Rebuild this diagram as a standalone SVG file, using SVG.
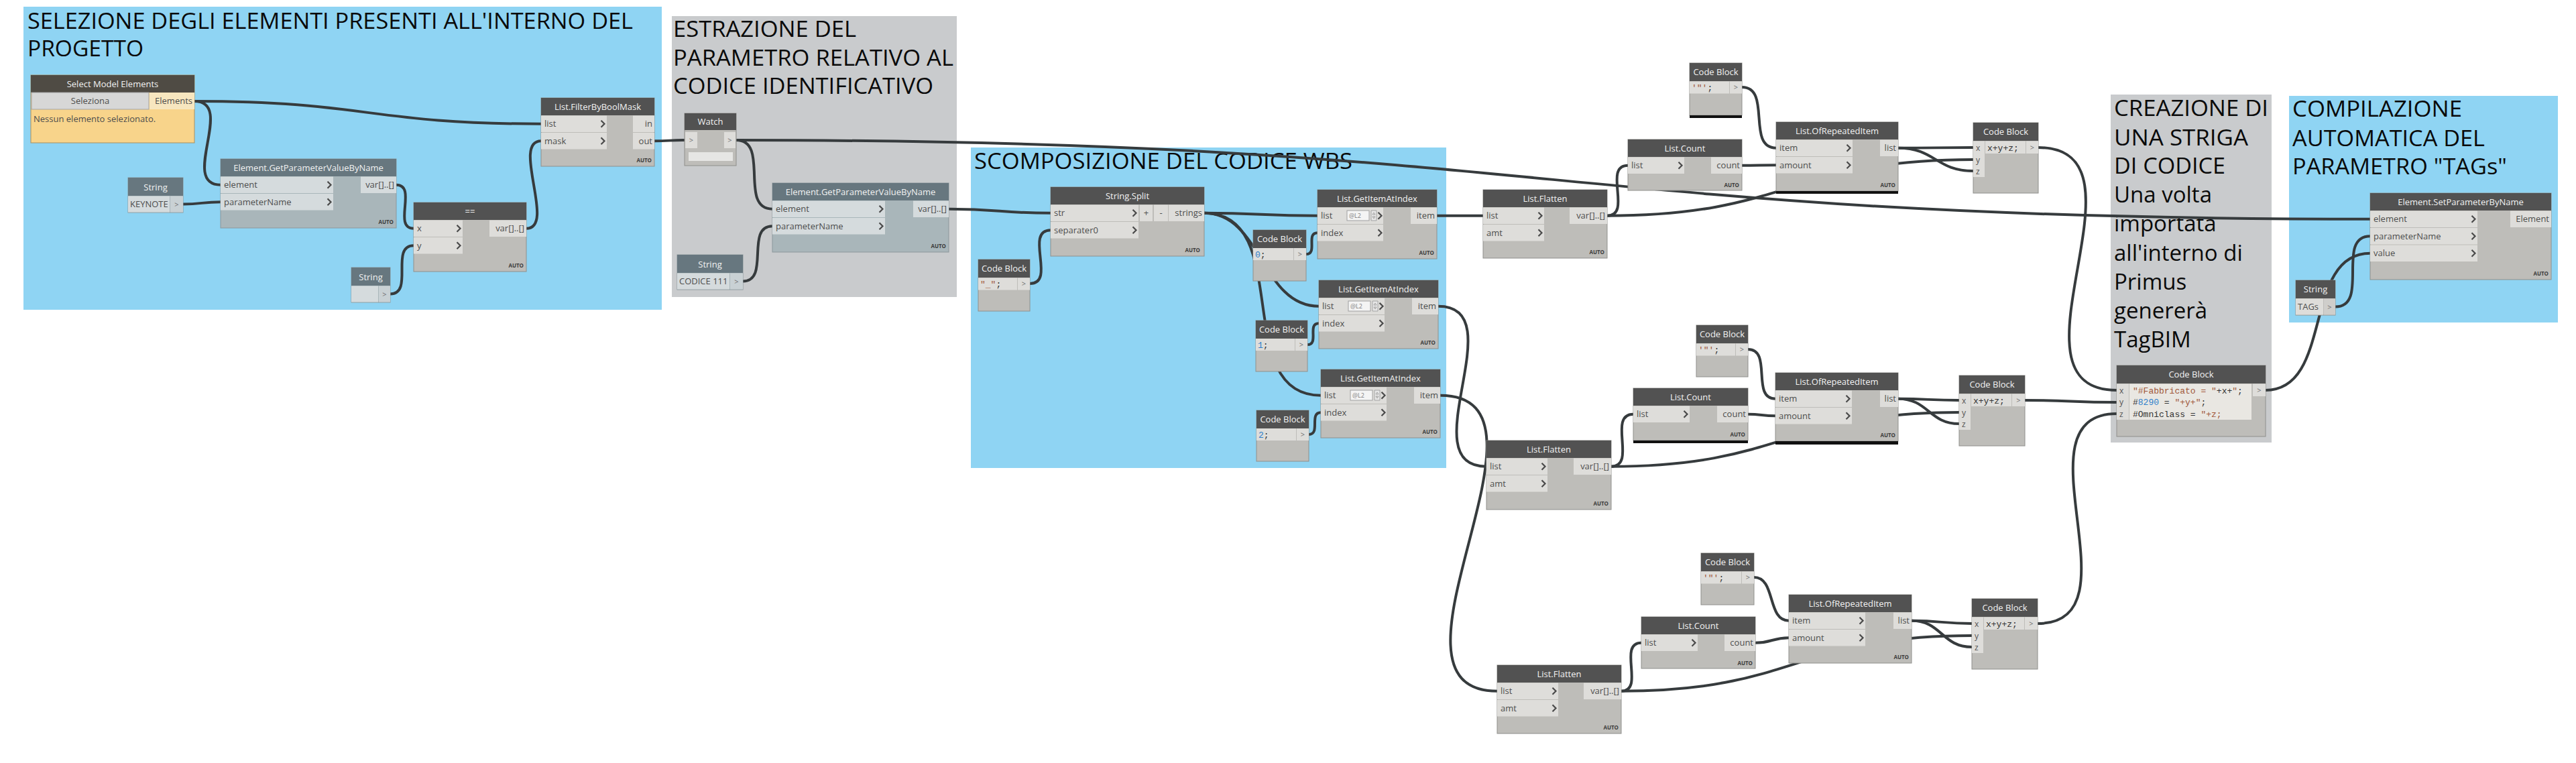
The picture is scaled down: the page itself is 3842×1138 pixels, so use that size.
<svg xmlns="http://www.w3.org/2000/svg" xmlns:xlink="http://www.w3.org/1999/xlink" width="3842" height="1138" viewBox="0 0 3842 1138">
<style>
.gb{fill:#8FD4F3}
.gg{fill:#C9CBCD}
.gt{font-family:"Open Sans","Liberation Sans",sans-serif;font-size:33px;fill:#0A0A0A}
.nb{fill:#BEBDB9;stroke:#8F8F8C;stroke-width:1}
.nh{fill:#525252}
.sb{fill:#A9B6BA;stroke:#8C979B;stroke-width:1}
.sh{fill:#67777F}
.pr{fill:#DEDDDA}
.spr{fill:#D5DBDD}
.ht{font-family:"Open Sans","Liberation Sans",sans-serif;font-size:13px;fill:#F2F2F2;text-anchor:middle}
.pt{font-family:"Open Sans","Liberation Sans",sans-serif;font-size:13px;fill:#4D4D4D}
.pe{text-anchor:end}
.au{font-family:"Open Sans","Liberation Sans",sans-serif;font-size:8px;font-weight:bold;fill:#3C3C3C;text-anchor:end}
.cd{font-family:"Liberation Mono","DejaVu Sans Mono",monospace;font-size:13px;fill:#333333}
.str{fill:#A0573A}
.num{fill:#2F7FCB}
.gp{font-family:"Open Sans","Liberation Sans",sans-serif;font-size:11px;fill:#707070;text-anchor:middle}
.lb{font-family:"Open Sans","Liberation Sans",sans-serif;font-size:12px;fill:#555555}
.lv{fill:#F4F4F4;stroke:#A0A0A0;stroke-width:1}
.lvt{font-family:"Open Sans","Liberation Sans",sans-serif;font-size:9px;fill:#808080}
.bar{fill:#111111}
.w{fill:none;stroke:#363B3D;stroke-width:4}
</style>
<defs>
<path id="chev" d="M-2.5,-5 L2.5,0 L-2.5,5" fill="none" stroke="#4A4A4A" stroke-width="2.2"/>
<path id="spin" d="M0,0 h8 v15 h-8 z M2,6 L4,3 L6,6 z M2,9 L4,12 L6,9 z" fill="#E6E6E6" stroke="#8A8A8A" stroke-width="0.7"/>
</defs>
<rect width="3842" height="1138" fill="#FFFFFF"/>

<g id="groups">
<rect class="gb" x="35" y="10" width="952" height="452"/>
<rect class="gg" x="1002" y="24" width="425" height="419"/>
<rect class="gb" x="1448" y="220" width="709" height="478"/>
<rect class="gg" x="3148" y="141" width="240" height="519"/>
<rect class="gb" x="3414" y="143" width="401" height="338"/>
<text class="gt" x="41" y="43" textLength="903" lengthAdjust="spacingAndGlyphs">SELEZIONE DEGLI ELEMENTI PRESENTI ALL'INTERNO DEL</text>
<text class="gt" x="41" y="84" textLength="173" lengthAdjust="spacingAndGlyphs">PROGETTO</text>
<text class="gt" x="1004" y="55" textLength="273" lengthAdjust="spacingAndGlyphs">ESTRAZIONE DEL</text>
<text class="gt" x="1004" y="98" textLength="418" lengthAdjust="spacingAndGlyphs">PARAMETRO RELATIVO AL</text>
<text class="gt" x="1004" y="140" textLength="388" lengthAdjust="spacingAndGlyphs">CODICE IDENTIFICATIVO</text>
<text class="gt" x="1453" y="252" textLength="564" lengthAdjust="spacingAndGlyphs">SCOMPOSIZIONE DEL CODICE WBS</text>
<text class="gt" x="3153" y="173" textLength="230" lengthAdjust="spacingAndGlyphs">CREAZIONE DI</text>
<text class="gt" x="3153" y="217" textLength="200" lengthAdjust="spacingAndGlyphs">UNA STRIGA</text>
<text class="gt" x="3153" y="259" textLength="166" lengthAdjust="spacingAndGlyphs">DI CODICE</text>
<text class="gt" x="3153" y="302">Una volta</text>
<text class="gt" x="3153" y="345">importata</text>
<text class="gt" x="3153" y="389">all'interno di</text>
<text class="gt" x="3153" y="432">Primus</text>
<text class="gt" x="3153" y="475">genererà</text>
<text class="gt" x="3153" y="518">TagBIM</text>
<text class="gt" x="3419" y="174" textLength="253" lengthAdjust="spacingAndGlyphs">COMPILAZIONE</text>
<text class="gt" x="3419" y="218" textLength="287" lengthAdjust="spacingAndGlyphs">AUTOMATICA DEL</text>
<text class="gt" x="3419" y="260" textLength="320" lengthAdjust="spacingAndGlyphs">PARAMETRO "TAGs"</text>
</g>

<g id="connectors">
<path class="w" d="M290,151 C548,151 549,184.75 807,184.75"/>
<path class="w" d="M290,151 C352,151 267,275.75 329,275.75"/>
<path class="w" d="M273,304.5 C301,304.5 301,301.25 329,301.25"/>
<path class="w" d="M591,275.75 C623,275.75 585,340.75 617,340.75"/>
<path class="w" d="M582,438.5 C618,438.5 581,366.25 617,366.25"/>
<path class="w" d="M785,340.75 C830,340.75 762,210.25 807,210.25"/>
<path class="w" d="M976,210.25 C998,210.25 999,209 1021,209"/>
<path class="w" d="M1098,209 C1149,209 1101,311.75 1152,311.75"/>
<path class="w" d="M1098,209 C2316,209 2317,326.75 3535,326.75"/>
<path class="w" d="M1108,419.5 C1149,419.5 1111,337.25 1152,337.25"/>
<path class="w" d="M1415,311.75 C1491,311.75 1491,317.75 1567,317.75"/>
<path class="w" d="M1536,423 C1576,423 1527,343.25 1567,343.25"/>
<path class="w" d="M1796,317.75 C1881,317.75 1880,321.75 1965,321.75"/>
<path class="w" d="M1796,317.75 C1882,317.75 1881,456.75 1967,456.75"/>
<path class="w" d="M1796,317.75 C1932,317.75 1834,589.75 1970,589.75"/>
<path class="w" d="M1948,379 C1966,379 1947,347.25 1965,347.25"/>
<path class="w" d="M1950,514 C1968,514 1949,482.25 1967,482.25"/>
<path class="w" d="M1952,648 C1970,648 1952,615.25 1970,615.25"/>
<path class="w" d="M2143,321.75 C2178,321.75 2177,321.75 2212,321.75"/>
<path class="w" d="M2145,456.75 C2260,456.75 2102,695.75 2217,695.75"/>
<path class="w" d="M2148,589.75 C2348,589.75 2033,1030.75 2233,1030.75"/>
<path class="w" d="M2397,321.75 C2435,321.75 2390,246.75 2428,246.75"/>
<path class="w" d="M2397,321.75 C2670,321.75 2670,238 2943,238"/>
<path class="w" d="M2598,246.75 C2623,246.75 2624,246.25 2649,246.25"/>
<path class="w" d="M2598,130 C2643,130 2604,220.75 2649,220.75"/>
<path class="w" d="M2831,220.75 C2887,220.75 2887,220 2943,220"/>
<path class="w" d="M2831,220.75 C2887,220.75 2887,255 2943,255"/>
<path class="w" d="M2403,695.75 C2442,695.75 2397,617.75 2436,617.75"/>
<path class="w" d="M2403,695.75 C2662,695.75 2663,615 2922,615"/>
<path class="w" d="M2607,617.75 C2627,617.75 2628,620.25 2648,620.25"/>
<path class="w" d="M2607,521 C2644,521 2611,594.75 2648,594.75"/>
<path class="w" d="M2831,594.75 C2876,594.75 2877,597 2922,597"/>
<path class="w" d="M2831,594.75 C2876,594.75 2877,632 2922,632"/>
<path class="w" d="M2418,1030.75 C2454,1030.75 2412,958.75 2448,958.75"/>
<path class="w" d="M2418,1030.75 C2680,1030.75 2679,948 2941,948"/>
<path class="w" d="M2618,958.75 C2643,958.75 2643,951.25 2668,951.25"/>
<path class="w" d="M2616,861 C2649,861 2635,925.75 2668,925.75"/>
<path class="w" d="M2851,925.75 C2896,925.75 2896,930 2941,930"/>
<path class="w" d="M2851,925.75 C2896,925.75 2896,965 2941,965"/>
<path class="w" d="M3040,220 C3221,220 2976,582 3157,582"/>
<path class="w" d="M3020,597 C3088,597 3089,600 3157,600"/>
<path class="w" d="M3039,930 C3195,930 3001,617 3157,617"/>
<path class="w" d="M3379,582 C3481,582 3433,377.75 3535,377.75"/>
<path class="w" d="M3483,457.5 C3535,457.5 3483,352.25 3535,352.25"/>
</g>

<g id="select-model-elements">
<rect x="46" y="112" width="244" height="101" fill="#F8D48B" stroke="#A89060"/>
<rect x="46" y="112" width="244" height="26" fill="#4F4B44"/>
<text class="ht" x="168" y="129.5">Select Model Elements</text>
<rect x="47" y="138" width="175" height="25" fill="#D7D7D7" stroke="#A5A5A5"/>
<text class="pt" x="134.5" y="155" text-anchor="middle" fill="#333">Seleziona</text>
<rect x="223" y="138" width="67" height="25" fill="#F7E6BF"/>
<text class="pt pe" x="287" y="155">Elements</text>
<text class="pt" x="50" y="182" font-size="11" fill="#333">Nessun elemento selezionato.</text>
</g>

<g id="filter-by-bool-mask">
<rect class="nb" x="807" y="146" width="169" height="102"/>
<rect class="nh" x="807" y="146" width="169" height="26"/>
<text class="ht" x="891.5" y="163.5">List.FilterByBoolMask</text>
<rect class="pr" x="807" y="172.5" width="98" height="24.5"/>
<rect class="pr" x="807" y="198" width="98" height="24.5"/>
<text class="pt" x="812" y="189.25">list</text>
<text class="pt" x="812" y="214.75">mask</text>
<use xlink:href="#chev" x="899" y="184.75"/>
<use xlink:href="#chev" x="899" y="210.25"/>
<rect class="pr" x="944" y="172.5" width="32" height="24.5"/>
<rect class="pr" x="944" y="198" width="32" height="24.5"/>
<text class="pt pe" x="973" y="189.25">in</text>
<text class="pt pe" x="973" y="214.75">out</text>
<text class="au" x="972" y="242">AUTO</text>
</g>

<g id="get-parameter-1">
<rect class="sb" x="329" y="237" width="262" height="103"/>
<rect class="sh" x="329" y="237" width="262" height="26"/>
<text class="ht" x="460" y="254.5">Element.GetParameterValueByName</text>
<rect class="spr" x="329" y="263.5" width="168" height="24.5"/>
<rect class="spr" x="329" y="289" width="168" height="24.5"/>
<text class="pt" x="334" y="280.25">element</text>
<text class="pt" x="334" y="305.75">parameterName</text>
<use xlink:href="#chev" x="491" y="275.75"/>
<use xlink:href="#chev" x="491" y="301.25"/>
<rect class="spr" x="538" y="263.5" width="53" height="24.5"/>
<text class="pt pe" x="588" y="280.25">var[]..[]</text>
<text class="au" x="587" y="334">AUTO</text>
</g>

<g id="string-keynote">
<rect class="sb" x="191" y="265" width="82" height="52"/>
<rect class="sh" x="191" y="265" width="82" height="27"/>
<text class="ht" x="232" y="283.5">String</text>
<rect class="spr" x="191" y="292.5" width="62" height="24"/>
<text class="pt" x="194" y="309" fill="#222">KEYNOTE</text>
<rect fill="#C9D1D4" x="254" y="292.5" width="19" height="24"/>
<text class="gp" x="263.5" y="308.5">&gt;</text>
</g>

<g id="equals">
<rect class="nb" x="617" y="302" width="168" height="103"/>
<rect class="nh" x="617" y="302" width="168" height="26"/>
<text class="ht" x="701" y="319.5">==</text>
<rect class="pr" x="617" y="328.5" width="73" height="24.5"/>
<rect class="pr" x="617" y="354" width="73" height="24.5"/>
<text class="pt" x="622" y="345.25">x</text>
<text class="pt" x="622" y="370.75">y</text>
<use xlink:href="#chev" x="684" y="340.75"/>
<use xlink:href="#chev" x="684" y="366.25"/>
<rect class="pr" x="730" y="328.5" width="55" height="24.5"/>
<text class="pt pe" x="782" y="345.25">var[]..[]</text>
<text class="au" x="781" y="399">AUTO</text>
</g>

<g id="string-empty">
<rect class="sb" x="524" y="399" width="58" height="52"/>
<rect class="sh" x="524" y="399" width="58" height="27"/>
<text class="ht" x="553" y="417.5">String</text>
<rect class="spr" x="524" y="426.5" width="40" height="24"/>
<rect fill="#C9D1D4" x="565" y="426.5" width="17" height="24"/>
<text class="gp" x="573.5" y="443">&gt;</text>
</g>

<g id="watch">
<rect class="nb" x="1021" y="169" width="77" height="78"/>
<rect class="nh" x="1021" y="169" width="77" height="25"/>
<text class="ht" x="1059.5" y="186">Watch</text>
<rect class="pr" x="1022" y="197" width="18" height="24"/>
<text class="gp" x="1031" y="213">&gt;</text>
<rect class="pr" x="1080" y="197" width="17" height="24"/>
<text class="gp" x="1088.5" y="213">&gt;</text>
<rect fill="#E6E6E4" x="1027" y="227" width="66" height="13"/>
</g>

<g id="get-parameter-2">
<rect class="sb" x="1152" y="273" width="263" height="103"/>
<rect class="sh" x="1152" y="273" width="263" height="26"/>
<text class="ht" x="1283.5" y="290.5">Element.GetParameterValueByName</text>
<rect class="spr" x="1152" y="299.5" width="168" height="24.5"/>
<rect class="spr" x="1152" y="325" width="168" height="24.5"/>
<text class="pt" x="1157" y="316.25">element</text>
<text class="pt" x="1157" y="341.75">parameterName</text>
<use xlink:href="#chev" x="1314" y="311.75"/>
<use xlink:href="#chev" x="1314" y="337.25"/>
<rect class="spr" x="1362" y="299.5" width="53" height="24.5"/>
<text class="pt pe" x="1412" y="316.25">var[]..[]</text>
<text class="au" x="1411" y="370">AUTO</text>
</g>

<g id="string-codice">
<rect class="sb" x="1010" y="380" width="98" height="52"/>
<rect class="sh" x="1010" y="380" width="98" height="27"/>
<text class="ht" x="1059" y="398.5">String</text>
<rect class="spr" x="1010" y="407.5" width="78" height="24"/>
<text class="pt" x="1013" y="424" fill="#222">CODICE 111</text>
<rect fill="#C9D1D4" x="1089" y="407.5" width="19" height="24"/>
<text class="gp" x="1098.5" y="423.5">&gt;</text>
</g>

<g id="string-split">
<rect class="nb" x="1567" y="279" width="229" height="103"/>
<rect class="nh" x="1567" y="279" width="229" height="26"/>
<text class="ht" x="1681.5" y="296.5">String.Split</text>
<rect class="pr" x="1567" y="305.5" width="131" height="24.5"/>
<rect class="pr" x="1567" y="331" width="131" height="24.5"/>
<text class="pt" x="1572" y="322.25">str</text>
<text class="pt" x="1572" y="347.75">separater0</text>
<use xlink:href="#chev" x="1692" y="317.75"/>
<use xlink:href="#chev" x="1692" y="343.25"/>
<rect class="pr" x="1700" y="305.5" width="19" height="24.5"/>
<rect class="pr" x="1721" y="305.5" width="21" height="24.5"/>
<text class="pt" x="1709.5" y="321.5" text-anchor="middle" fill="#333">+</text>
<text class="pt" x="1731.5" y="321.5" text-anchor="middle" fill="#333">-</text>
<rect class="pr" x="1743" y="305.5" width="53" height="24.5"/>
<text class="pt pe" x="1793" y="322.25">strings</text>
<text class="au" x="1790" y="376">AUTO</text>
</g>

<g id="code-block-separator">
<rect class="nb" x="1459" y="387" width="77" height="77"/>
<rect class="nh" x="1459" y="387" width="77" height="27"/>
<text class="ht" x="1497.5" y="405">Code Block</text>
<rect class="pr" x="1459" y="414.5" width="58" height="18"/>
<rect class="pr" x="1518" y="414.5" width="18" height="18"/>
<text class="cd" x="1462" y="427.5"><tspan class="str">"_"</tspan>;</text>
<text class="gp" x="1527" y="427">&gt;</text>
</g>

<g id="code-block-0">
<rect class="nb" x="1869" y="343" width="79" height="76"/>
<rect class="nh" x="1869" y="343" width="79" height="27"/>
<text class="ht" x="1908.5" y="361">Code Block</text>
<rect class="pr" x="1869" y="370" width="60" height="18"/>
<rect class="pr" x="1930" y="370" width="18" height="18"/>
<text class="cd" x="1872" y="383.5"><tspan class="num">0</tspan>;</text>
<text class="gp" x="1939" y="383">&gt;</text>
</g>

<g id="code-block-1">
<rect class="nb" x="1873" y="478" width="77" height="76"/>
<rect class="nh" x="1873" y="478" width="77" height="27"/>
<text class="ht" x="1911.5" y="496">Code Block</text>
<rect class="pr" x="1873" y="505" width="58" height="18"/>
<rect class="pr" x="1932" y="505" width="18" height="18"/>
<text class="cd" x="1876" y="518.5"><tspan class="num">1</tspan>;</text>
<text class="gp" x="1941" y="518">&gt;</text>
</g>

<g id="code-block-2">
<rect class="nb" x="1874" y="612" width="78" height="76"/>
<rect class="nh" x="1874" y="612" width="78" height="27"/>
<text class="ht" x="1913" y="630">Code Block</text>
<rect class="pr" x="1874" y="639" width="59" height="18"/>
<rect class="pr" x="1934" y="639" width="18" height="18"/>
<text class="cd" x="1877" y="652.5"><tspan class="num">2</tspan>;</text>
<text class="gp" x="1943" y="652">&gt;</text>
</g>

<g id="get-item-1">
<rect class="nb" x="1965" y="283" width="178" height="103"/>
<rect class="nh" x="1965" y="283" width="178" height="26"/>
<text class="ht" x="2054" y="300.5">List.GetItemAtIndex</text>
<rect class="pr" x="1965" y="309.5" width="98" height="24.5"/>
<rect class="pr" x="1965" y="335" width="98" height="24.5"/>
<text class="pt" x="1970" y="326.25">list</text>
<rect class="lv" x="2009" y="314" width="33" height="15"/>
<text class="lvt" x="2012" y="325">@L2</text>
<use xlink:href="#spin" x="2045" y="314"/>
<use xlink:href="#chev" x="2058" y="321.75"/>
<text class="pt" x="1970" y="351.75">index</text>
<use xlink:href="#chev" x="2058" y="347.25"/>
<rect class="pr" x="2104" y="309.5" width="39" height="24.5"/>
<text class="pt pe" x="2140" y="326.25">item</text>
<text class="au" x="2139" y="380">AUTO</text>
</g>

<g id="get-item-2">
<rect class="nb" x="1967" y="418" width="178" height="102"/>
<rect class="nh" x="1967" y="418" width="178" height="26"/>
<text class="ht" x="2056" y="435.5">List.GetItemAtIndex</text>
<rect class="pr" x="1967" y="444.5" width="98" height="24.5"/>
<rect class="pr" x="1967" y="470" width="98" height="24.5"/>
<text class="pt" x="1972" y="461.25">list</text>
<rect class="lv" x="2011" y="449" width="33" height="15"/>
<text class="lvt" x="2014" y="460">@L2</text>
<use xlink:href="#spin" x="2047" y="449"/>
<use xlink:href="#chev" x="2060" y="456.75"/>
<text class="pt" x="1972" y="486.75">index</text>
<use xlink:href="#chev" x="2060" y="482.25"/>
<rect class="pr" x="2106" y="444.5" width="39" height="24.5"/>
<text class="pt pe" x="2142" y="461.25">item</text>
<text class="au" x="2141" y="514">AUTO</text>
</g>

<g id="get-item-3">
<rect class="nb" x="1970" y="551" width="178" height="102"/>
<rect class="nh" x="1970" y="551" width="178" height="26"/>
<text class="ht" x="2059" y="568.5">List.GetItemAtIndex</text>
<rect class="pr" x="1970" y="577.5" width="98" height="24.5"/>
<rect class="pr" x="1970" y="603" width="98" height="24.5"/>
<text class="pt" x="1975" y="594.25">list</text>
<rect class="lv" x="2014" y="582" width="33" height="15"/>
<text class="lvt" x="2017" y="593">@L2</text>
<use xlink:href="#spin" x="2050" y="582"/>
<use xlink:href="#chev" x="2063" y="589.75"/>
<text class="pt" x="1975" y="619.75">index</text>
<use xlink:href="#chev" x="2063" y="615.25"/>
<rect class="pr" x="2109" y="577.5" width="39" height="24.5"/>
<text class="pt pe" x="2145" y="594.25">item</text>
<text class="au" x="2144" y="647">AUTO</text>
</g>

<g id="flatten-1">
<rect class="nb" x="2212" y="283" width="185" height="102"/>
<rect class="nh" x="2212" y="283" width="185" height="26"/>
<text class="ht" x="2304.5" y="300.5">List.Flatten</text>
<rect class="pr" x="2212" y="309.5" width="91" height="24.5"/>
<rect class="pr" x="2212" y="335" width="91" height="24.5"/>
<text class="pt" x="2217" y="326.25">list</text>
<text class="pt" x="2217" y="351.75">amt</text>
<use xlink:href="#chev" x="2297" y="321.75"/>
<use xlink:href="#chev" x="2297" y="347.25"/>
<rect class="pr" x="2341" y="309.5" width="56" height="24.5"/>
<text class="pt pe" x="2394" y="326.25">var[]..[]</text>
<text class="au" x="2393" y="379">AUTO</text>
</g>

<g id="flatten-2">
<rect class="nb" x="2217" y="657" width="186" height="103"/>
<rect class="nh" x="2217" y="657" width="186" height="26"/>
<text class="ht" x="2310" y="674.5">List.Flatten</text>
<rect class="pr" x="2217" y="683.5" width="91" height="24.5"/>
<rect class="pr" x="2217" y="709" width="91" height="24.5"/>
<text class="pt" x="2222" y="700.25">list</text>
<text class="pt" x="2222" y="725.75">amt</text>
<use xlink:href="#chev" x="2302" y="695.75"/>
<use xlink:href="#chev" x="2302" y="721.25"/>
<rect class="pr" x="2347" y="683.5" width="56" height="24.5"/>
<text class="pt pe" x="2400" y="700.25">var[]..[]</text>
<text class="au" x="2399" y="754">AUTO</text>
</g>

<g id="flatten-3">
<rect class="nb" x="2233" y="992" width="185" height="102"/>
<rect class="nh" x="2233" y="992" width="185" height="26"/>
<text class="ht" x="2325.5" y="1009.5">List.Flatten</text>
<rect class="pr" x="2233" y="1018.5" width="91" height="24.5"/>
<rect class="pr" x="2233" y="1044" width="91" height="24.5"/>
<text class="pt" x="2238" y="1035.25">list</text>
<text class="pt" x="2238" y="1060.75">amt</text>
<use xlink:href="#chev" x="2318" y="1030.75"/>
<use xlink:href="#chev" x="2318" y="1056.25"/>
<rect class="pr" x="2362" y="1018.5" width="56" height="24.5"/>
<text class="pt pe" x="2415" y="1035.25">var[]..[]</text>
<text class="au" x="2414" y="1088">AUTO</text>
</g>

<g id="count-1">
<rect class="nb" x="2428" y="208" width="170" height="76"/>
<rect class="nh" x="2428" y="208" width="170" height="26"/>
<text class="ht" x="2513" y="225.5">List.Count</text>
<rect class="pr" x="2428" y="234.5" width="84" height="24.5"/>
<text class="pt" x="2433" y="251.25">list</text>
<use xlink:href="#chev" x="2506" y="246.75"/>
<rect class="pr" x="2552" y="234.5" width="46" height="24.5"/>
<text class="pt pe" x="2595" y="251.25">count</text>
<text class="au" x="2594" y="279">AUTO</text>
</g>

<g id="count-2">
<rect class="nb" x="2436" y="579" width="171" height="78"/>
<rect class="nh" x="2436" y="579" width="171" height="26"/>
<text class="ht" x="2521.5" y="596.5">List.Count</text>
<rect class="pr" x="2436" y="605.5" width="84" height="24.5"/>
<text class="pt" x="2441" y="622.25">list</text>
<use xlink:href="#chev" x="2514" y="617.75"/>
<rect class="pr" x="2561" y="605.5" width="46" height="24.5"/>
<text class="pt pe" x="2604" y="622.25">count</text>
<text class="au" x="2603" y="651">AUTO</text>
<rect class="bar" x="2436" y="657" width="171" height="4"/>
</g>

<g id="count-3">
<rect class="nb" x="2448" y="920" width="170" height="77"/>
<rect class="nh" x="2448" y="920" width="170" height="26"/>
<text class="ht" x="2533" y="937.5">List.Count</text>
<rect class="pr" x="2448" y="946.5" width="84" height="24.5"/>
<text class="pt" x="2453" y="963.25">list</text>
<use xlink:href="#chev" x="2526" y="958.75"/>
<rect class="pr" x="2572" y="946.5" width="46" height="24.5"/>
<text class="pt pe" x="2615" y="963.25">count</text>
<text class="au" x="2614" y="992">AUTO</text>
</g>

<g id="code-block-quote-1">
<rect class="nb" x="2520" y="94" width="78" height="78"/>
<rect class="nh" x="2520" y="94" width="78" height="27"/>
<text class="ht" x="2559" y="112">Code Block</text>
<rect class="pr" x="2520" y="121.5" width="59" height="18"/>
<rect class="pr" x="2580" y="121.5" width="18" height="18"/>
<text class="cd" x="2523" y="134.5"><tspan class="str">'"'</tspan>;</text>
<text class="gp" x="2589" y="134">&gt;</text>
<rect class="bar" x="2520" y="172" width="78" height="4"/>
</g>

<g id="code-block-quote-2">
<rect class="nb" x="2530" y="485" width="77" height="77"/>
<rect class="nh" x="2530" y="485" width="77" height="27"/>
<text class="ht" x="2568.5" y="503">Code Block</text>
<rect class="pr" x="2530" y="512.5" width="58" height="18"/>
<rect class="pr" x="2589" y="512.5" width="18" height="18"/>
<text class="cd" x="2533" y="525.5"><tspan class="str">'"'</tspan>;</text>
<text class="gp" x="2598" y="525">&gt;</text>
</g>

<g id="code-block-quote-3">
<rect class="nb" x="2537" y="825" width="79" height="77"/>
<rect class="nh" x="2537" y="825" width="79" height="27"/>
<text class="ht" x="2576.5" y="843">Code Block</text>
<rect class="pr" x="2537" y="852.5" width="60" height="18"/>
<rect class="pr" x="2598" y="852.5" width="18" height="18"/>
<text class="cd" x="2540" y="865.5"><tspan class="str">'"'</tspan>;</text>
<text class="gp" x="2607" y="865">&gt;</text>
</g>

<g id="repeated-item-1">
<rect class="nb" x="2649" y="182" width="182" height="103"/>
<rect class="nh" x="2649" y="182" width="182" height="26"/>
<text class="ht" x="2740" y="199.5">List.OfRepeatedItem</text>
<rect class="pr" x="2649" y="208.5" width="114" height="24.5"/>
<rect class="pr" x="2649" y="234" width="114" height="24.5"/>
<text class="pt" x="2654" y="225.25">item</text>
<text class="pt" x="2654" y="250.75">amount</text>
<use xlink:href="#chev" x="2757" y="220.75"/>
<use xlink:href="#chev" x="2757" y="246.25"/>
<rect class="pr" x="2804" y="208.5" width="27" height="24.5"/>
<text class="pt pe" x="2828" y="225.25">list</text>
<text class="au" x="2827" y="279">AUTO</text>
<rect class="bar" x="2649" y="285" width="182" height="4"/>
</g>

<g id="repeated-item-2">
<rect class="nb" x="2648" y="556" width="183" height="102"/>
<rect class="nh" x="2648" y="556" width="183" height="26"/>
<text class="ht" x="2739.5" y="573.5">List.OfRepeatedItem</text>
<rect class="pr" x="2648" y="582.5" width="114" height="24.5"/>
<rect class="pr" x="2648" y="608" width="114" height="24.5"/>
<text class="pt" x="2653" y="599.25">item</text>
<text class="pt" x="2653" y="624.75">amount</text>
<use xlink:href="#chev" x="2756" y="594.75"/>
<use xlink:href="#chev" x="2756" y="620.25"/>
<rect class="pr" x="2804" y="582.5" width="27" height="24.5"/>
<text class="pt pe" x="2828" y="599.25">list</text>
<text class="au" x="2827" y="652">AUTO</text>
<rect class="bar" x="2648" y="658" width="183" height="5"/>
</g>

<g id="repeated-item-3">
<rect class="nb" x="2668" y="887" width="183" height="102"/>
<rect class="nh" x="2668" y="887" width="183" height="26"/>
<text class="ht" x="2759.5" y="904.5">List.OfRepeatedItem</text>
<rect class="pr" x="2668" y="913.5" width="114" height="24.5"/>
<rect class="pr" x="2668" y="939" width="114" height="24.5"/>
<text class="pt" x="2673" y="930.25">item</text>
<text class="pt" x="2673" y="955.75">amount</text>
<use xlink:href="#chev" x="2776" y="925.75"/>
<use xlink:href="#chev" x="2776" y="951.25"/>
<rect class="pr" x="2824" y="913.5" width="27" height="24.5"/>
<text class="pt pe" x="2848" y="930.25">list</text>
<text class="au" x="2847" y="983">AUTO</text>
</g>

<g id="code-block-xyz-1">
<rect class="nb" x="2943" y="183" width="97" height="105"/>
<rect class="nh" x="2943" y="183" width="97" height="27"/>
<text class="ht" x="2991.5" y="201">Code Block</text>
<rect class="pr" x="2943" y="210.5" width="17" height="53.5"/>
<text class="lb" x="2947" y="224.5">x</text>
<text class="lb" x="2947" y="242.5">y</text>
<text class="lb" x="2947" y="259.5">z</text>
<rect class="pr" x="2961" y="210.5" width="60" height="18.5"/>
<text class="cd" x="2964" y="224.5">x+y+z;</text>
<rect class="pr" x="3022" y="210.5" width="18" height="18.5"/>
<text class="gp" x="3031" y="224">&gt;</text>
</g>

<g id="code-block-xyz-2">
<rect class="nb" x="2922" y="560" width="98" height="105"/>
<rect class="nh" x="2922" y="560" width="98" height="27"/>
<text class="ht" x="2971" y="578">Code Block</text>
<rect class="pr" x="2922" y="587.5" width="17" height="53.5"/>
<text class="lb" x="2926" y="601.5">x</text>
<text class="lb" x="2926" y="619.5">y</text>
<text class="lb" x="2926" y="636.5">z</text>
<rect class="pr" x="2940" y="587.5" width="60" height="18.5"/>
<text class="cd" x="2943" y="601.5">x+y+z;</text>
<rect class="pr" x="3001" y="587.5" width="19" height="18.5"/>
<text class="gp" x="3010.5" y="601">&gt;</text>
</g>

<g id="code-block-xyz-3">
<rect class="nb" x="2941" y="893" width="98" height="105"/>
<rect class="nh" x="2941" y="893" width="98" height="27"/>
<text class="ht" x="2990" y="911">Code Block</text>
<rect class="pr" x="2941" y="920.5" width="17" height="53.5"/>
<text class="lb" x="2945" y="934.5">x</text>
<text class="lb" x="2945" y="952.5">y</text>
<text class="lb" x="2945" y="969.5">z</text>
<rect class="pr" x="2959" y="920.5" width="60" height="18.5"/>
<text class="cd" x="2962" y="934.5">x+y+z;</text>
<rect class="pr" x="3020" y="920.5" width="19" height="18.5"/>
<text class="gp" x="3029.5" y="934">&gt;</text>
</g>

<g id="code-block-tag">
<rect class="nb" x="3157" y="545" width="222" height="106"/>
<rect class="nh" x="3157" y="545" width="222" height="27"/>
<text class="ht" x="3268" y="563">Code Block</text>
<rect class="pr" x="3157" y="572.5" width="18" height="53.5"/>
<text class="lb" x="3161" y="586.5">x</text>
<text class="lb" x="3161" y="604">y</text>
<text class="lb" x="3161" y="621.5">z</text>
<rect fill="#E9E7E2" x="3176" y="572.5" width="182" height="53.5"/>
<text class="cd" x="3181" y="586.5" font-size="13.5"><tspan class="str">"#Fabbricato = "</tspan>+x+<tspan class="str">"</tspan>;</text>
<text class="cd" x="3181" y="604" font-size="13.5">#<tspan class="num">8290</tspan> = <tspan class="str">"+y+"</tspan>;</text>
<text class="cd" x="3181" y="621.5" font-size="13.5">#Omniclass = <tspan class="str">"+z;</tspan></text>
<rect class="pr" x="3360" y="572.5" width="19" height="18.5"/>
<text class="gp" x="3369.5" y="586">&gt;</text>
</g>

<g id="set-parameter">
<rect class="nb" x="3535" y="288" width="270" height="129"/>
<rect class="nh" x="3535" y="288" width="270" height="26"/>
<text class="ht" x="3670" y="305.5">Element.SetParameterByName</text>
<rect class="pr" x="3535" y="314.5" width="160" height="24.5"/>
<rect class="pr" x="3535" y="340" width="160" height="24.5"/>
<rect class="pr" x="3535" y="365.5" width="160" height="24.5"/>
<text class="pt" x="3540" y="331.25">element</text>
<text class="pt" x="3540" y="356.75">parameterName</text>
<text class="pt" x="3540" y="382.25">value</text>
<use xlink:href="#chev" x="3689" y="326.75"/>
<use xlink:href="#chev" x="3689" y="352.25"/>
<use xlink:href="#chev" x="3689" y="377.75"/>
<rect class="pr" x="3744" y="314.5" width="61" height="24.5"/>
<text class="pt pe" x="3802" y="331.25">Element</text>
<text class="au" x="3801" y="411">AUTO</text>
</g>

<g id="string-tags">
<rect class="nb" x="3424" y="418" width="59" height="52"/>
<rect class="nh" x="3424" y="418" width="59" height="27"/>
<text class="ht" x="3453.5" y="436">String</text>
<rect class="pr" x="3424" y="445.5" width="41" height="24"/>
<text class="pt" x="3427" y="462" fill="#222">TAGs</text>
<rect fill="#CFCECB" x="3466" y="445.5" width="17" height="24"/>
<text class="gp" x="3474.5" y="461.5">&gt;</text>
</g>
</svg>
